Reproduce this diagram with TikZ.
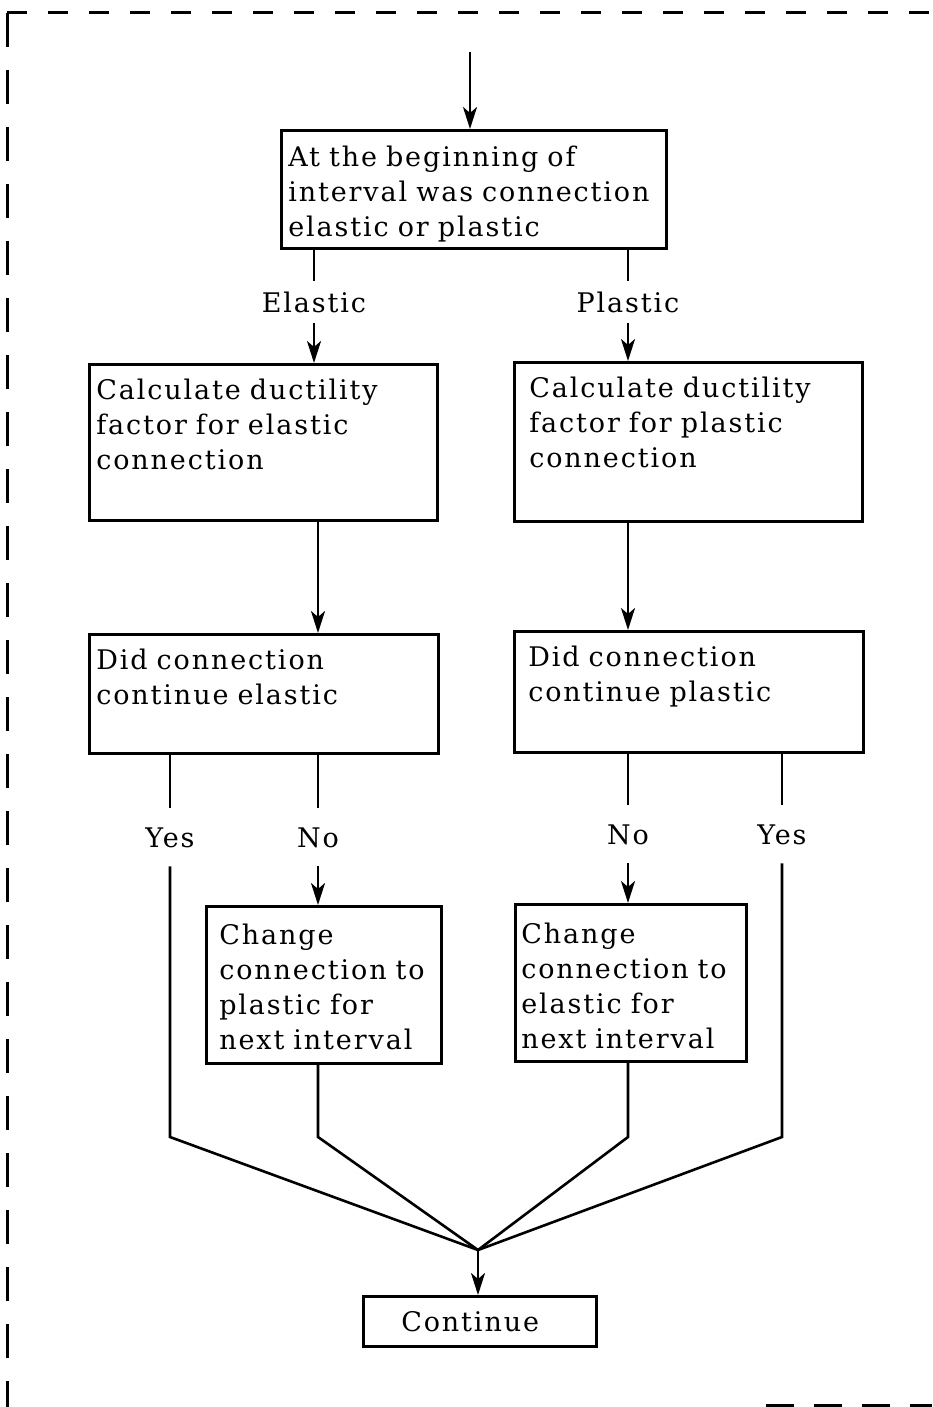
\documentclass[tikz,border=0pt]{standalone}
\usepackage{fontspec}
\newfontfamily\flowfont[LetterSpace=7]{DejaVu Serif}
\usetikzlibrary{arrows.meta}

\begin{document}
\begin{tikzpicture}[x=0.5pt, y=-0.5pt, line width=1.3pt,
>={Stealth[length=11pt,width=7pt,inset=3pt]},
flow box/.style={draw, rectangle, anchor=north west, align=left, inner xsep=3.5pt, inner ysep=7.5pt,
  text height=10pt, font={\flowfont\fontsize{13.5pt}{17.5pt}\selectfont\spaceskip 7pt plus 1pt\relax}},
answer/.style={inner xsep=2pt, inner ysep=5pt, text height=10pt, text depth=0pt,
  font=\flowfont\fontsize{13.5pt}{17.5pt}\selectfont},
frame/.style={line width=1.5pt}]

\useasboundingbox (0,0) rectangle (932,1407);

% dashed frame
\draw[frame, dash pattern=on 10pt off 10.5pt] (7,13) -- (932,13);
\draw[frame, dash pattern=on 17pt off 11.5pt] (7,13) -- (7,1407);
\draw[frame, dash pattern=on 14pt off 10pt] (766,1405) -- (932,1405);

\node[flow box] [text width=185.5pt, text depth=33pt, inner ysep=8pt] (q) at (280,129) {At the beginning of\\interval was connection\\elastic or plastic};
\node[flow box] [text width=167pt, text depth=53pt] (ce) at (88,363) {Calculate ductility\\factor for elastic\\connection};
\node[flow box] [text width=159pt, text depth=54.5pt, inner xsep=7.5pt] (cp) at (513,361) {Calculate ductility\\factor for plastic\\connection};
\node[flow box] [text width=167.5pt, text depth=34.5pt] (de) at (88,633) {Did connection\\continue elastic};
\node[flow box] [text width=160.5pt, text depth=35.5pt, inner xsep=7pt] (dp) at (513,630) {Did connection\\continue plastic};
\node[flow box] [text width=104.5pt, text depth=50.5pt, inner xsep=6.5pt, inner ysep=9pt] (ge) at (205,905) {Change\\connection to\\plastic for\\next interval};
\node[flow box] [text width=109.5pt, text depth=49.5pt, inner xsep=3pt, inner ysep=9.5pt] (gp) at (514,903) {Change\\connection to\\elastic for\\next interval};
\node[flow box] [text width=78.5pt, text depth=0pt, inner xsep=19pt] (cont) at (362,1295) {Continue};

\node[answer] (lE) at (314,302) {Elastic};
\node[answer] (lP) at (628,302) {Plastic};
\node[answer, inner ysep=9pt] (yE) at (170,837) {Yes};
\node[answer, inner ysep=9pt] (nE) at (318,837) {No};
\node[answer, inner ysep=9pt] (nP) at (628,834) {No};
\node[answer, inner ysep=9pt] (yP) at (782,834) {Yes};

\coordinate (start) at (470,52);
\coordinate (low) at (0,1137);
\coordinate (m) at (478,1250);

\draw[->] (start) -- (start |- q.north);
\draw (q.south -| lE) -- (lE);
\draw[->] (lE) -- (lE |- ce.north);
\draw (q.south -| lP) -- (lP);
\draw[->] (lP) -- (lP |- cp.north);
\draw[->] (ce.south -| nE) -- (nE |- de.north);
\draw[->] (cp.south -| nP) -- (nP |- dp.north);
\draw (de.south -| yE) -- (yE);
\draw (de.south -| nE) -- (nE);
\draw[->] (nE) -- (nE |- ge.north);
\draw (dp.south -| nP) -- (nP);
\draw[->] (nP) -- (nP |- gp.north);
\draw (dp.south -| yP) -- (yP);
\draw (yE) -- (yE |- low) -- (m);
\draw (ge.south -| nE) -- (nE |- low) -- (m);
\draw (gp.south -| nP) -- (nP |- low) -- (m);
\draw (yP) -- (yP |- low) -- (m);
\draw[->] (m) -- (m |- cont.north);
\end{tikzpicture}
\end{document}
